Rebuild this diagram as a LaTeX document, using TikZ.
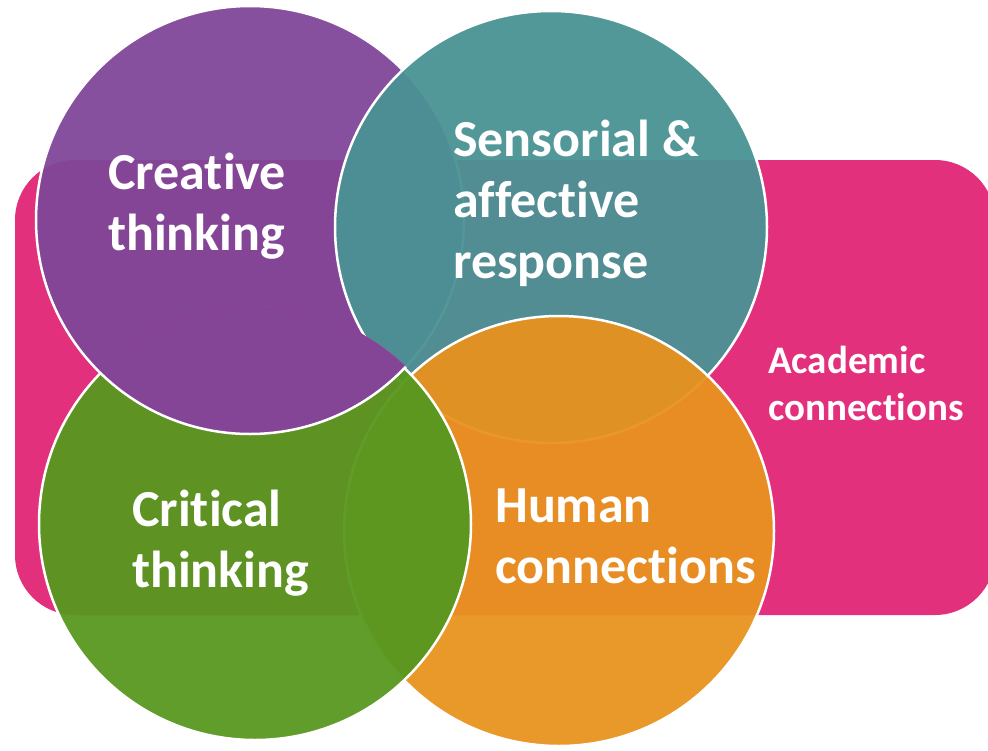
\documentclass[tikz,border=0pt]{standalone}
\usepackage{fontspec}
\setmainfont{Carlito}[RawFeature=-liga]
\definecolor{vpurple}{HTML}{7F4799}
\definecolor{vteal}{HTML}{4A9294}
\definecolor{vgreen}{HTML}{57981F}
\definecolor{vorange}{HTML}{E8921F}
\definecolor{vpink}{HTML}{E3307C}
\begin{document}
\begin{tikzpicture}[x=1pt,y=-1pt,
  disc/.style={fill opacity=0.95},
  rim/.style={draw=white, line width=2.5pt},
  lbl/.style={text=white, font=\bfseries\fontsize{52}{61}\selectfont,
              align=left, inner sep=0pt, anchor=base west},
  smalllbl/.style={lbl, font=\bfseries\fontsize{39}{47}\selectfont}]
\useasboundingbox (0,0) rectangle (988,750);

% circle centres and radii
\coordinate (cP) at (250,220); \def\rP{214}
\coordinate (cT) at (551,227); \def\rT{216}
\coordinate (cG) at (255,524); \def\rG{216}
\coordinate (cO) at (559,531); \def\rO{215}

% academic connections panel behind the circles
\fill[vpink, rounded corners=60pt] (15,160) rectangle (995,615);

% circles, stacked purple -> teal -> orange -> green
\fill[vpurple, disc] (cP) circle[radius=\rP];
\draw[rim] (cP) circle[radius=\rP];
\fill[vteal, disc] (cT) circle[radius=\rT];
\draw[rim] (cT) circle[radius=\rT];
\fill[vorange, disc] (cO) circle[radius=\rO];
\draw[rim] (cO) circle[radius=\rO];
\fill[vgreen, disc] (cG) circle[radius=\rG];
\draw[rim] (cG) circle[radius=\rG];

% purple lies over green where the two overlap
\begin{scope}
  \clip (cG) circle[radius=\rG+2];
  \fill[vpink] (cP) circle[radius=\rP];
  \fill[vpurple, disc] (cP) circle[radius=\rP];
  \draw[rim] (cP) circle[radius=\rP];
\end{scope}

% labels (anchored at the baseline of their last line)
\node[lbl] (creative) at (108,250) {Creative\\thinking};
\node[lbl] (sensorial) at (453,278) {Sensorial \&\\affective\\response};
\node[lbl] (critical) at (132,587) {Critical\\thinking};
\node[lbl] (human) at (495,583) {Human\\connections};
\node[smalllbl] (academic) at (768,420) {Academic\\connections};
\end{tikzpicture}
\end{document}
